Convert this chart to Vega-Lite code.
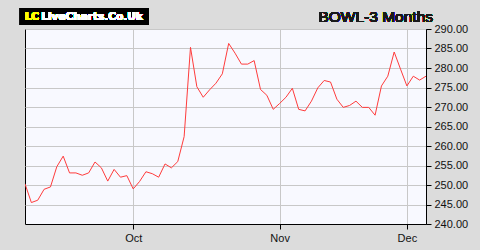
{
  "$schema": "https://vega.github.io/schema/vega-lite/v6.json",
  "width": 401,
  "height": 195,
  "autosize": {"type": "none"},
  "padding": {"left": 25, "top": 29, "right": 54, "bottom": 26},
  "background": "#dcdcdc",
  "view": {"stroke": "#000000", "strokeWidth": 1, "fill": "#f8f9ff"},
  "config": {"font": "Liberation Sans"},
  "resolve": {"axis": {"x": "independent", "y": "independent"}},
  "data": {
    "values": [
      {"i": 0, "close": 250.3}, {"i": 1, "close": 245.5}, {"i": 2, "close": 246.1}, {"i": 3, "close": 248.9},
      {"i": 4, "close": 249.5}, {"i": 5, "close": 254.7}, {"i": 6, "close": 257.4}, {"i": 7, "close": 253.1},
      {"i": 8, "close": 253.1}, {"i": 9, "close": 252.5}, {"i": 10, "close": 253.1}, {"i": 11, "close": 255.9},
      {"i": 12, "close": 254.4}, {"i": 13, "close": 251.0}, {"i": 14, "close": 254.0}, {"i": 15, "close": 252.0},
      {"i": 16, "close": 252.4}, {"i": 17, "close": 249.0}, {"i": 18, "close": 250.9}, {"i": 19, "close": 253.4},
      {"i": 20, "close": 252.9}, {"i": 21, "close": 252.0}, {"i": 22, "close": 255.4}, {"i": 23, "close": 254.4},
      {"i": 24, "close": 256.0}, {"i": 25, "close": 262.4}, {"i": 26, "close": 285.3}, {"i": 27, "close": 275.2},
      {"i": 28, "close": 272.5}, {"i": 29, "close": 274.4}, {"i": 30, "close": 276.1}, {"i": 31, "close": 278.5},
      {"i": 32, "close": 286.3}, {"i": 33, "close": 283.8}, {"i": 34, "close": 281.0}, {"i": 35, "close": 281.0},
      {"i": 36, "close": 281.9}, {"i": 37, "close": 274.5}, {"i": 38, "close": 273.0}, {"i": 39, "close": 269.4},
      {"i": 40, "close": 270.9}, {"i": 41, "close": 272.5}, {"i": 42, "close": 274.8}, {"i": 43, "close": 269.4},
      {"i": 44, "close": 269.0}, {"i": 45, "close": 271.5}, {"i": 46, "close": 274.9}, {"i": 47, "close": 276.8},
      {"i": 48, "close": 276.4}, {"i": 49, "close": 272.0}, {"i": 50, "close": 269.9}, {"i": 51, "close": 270.4},
      {"i": 52, "close": 271.5}, {"i": 53, "close": 269.9}, {"i": 54, "close": 269.9}, {"i": 55, "close": 267.9},
      {"i": 56, "close": 275.4}, {"i": 57, "close": 277.9}, {"i": 58, "close": 284.1}, {"i": 59, "close": 279.7},
      {"i": 60, "close": 275.4}, {"i": 61, "close": 277.9}, {"i": 62, "close": 276.9}, {"i": 63, "close": 277.9}
    ]
  },
  "layer": [
    {
      "mark": {"type": "line", "color": "#ff3c3c", "strokeWidth": 1, "clip": true},
      "encoding": {
        "x": {
          "field": "i",
          "type": "quantitative",
          "scale": {"domain": [0, 63], "nice": false, "zero": false},
          "axis": {
            "title": null,
            "values": [17, 40, 60],
            "labelExpr": "datum.value == 17 ? 'Oct' : datum.value == 40 ? 'Nov' : 'Dec'",
            "labelOverlap": false,
            "grid": true,
            "gridColor": "#c8c8c8",
            "gridWidth": 1,
            "domainColor": "#000000",
            "tickColor": "#000000",
            "tickSize": 5,
            "labelFontSize": 11,
            "labelColor": "#111111",
            "labelPadding": 3,
            "labelFont": "Liberation Sans"
          }
        },
        "y": {
          "field": "close",
          "type": "quantitative",
          "scale": {"domain": [240, 290], "nice": false, "zero": false},
          "axis": {
            "title": null,
            "orient": "right",
            "values": [240, 245, 250, 255, 260, 265, 270, 275, 280, 285, 290],
            "format": ".2f",
            "labelOverlap": false,
            "labelFlush": false,
            "grid": true,
            "gridColor": "#c8c8c8",
            "gridWidth": 1,
            "domainColor": "#000000",
            "tickColor": "#000000",
            "tickSize": 5,
            "labelFontSize": 11,
            "labelColor": "#111111",
            "labelPadding": 3,
            "labelFont": "Liberation Sans"
          }
        }
      }
    },
    {
      "mark": {"type": "rect", "color": "#000000", "clip": false},
      "encoding": {
        "x": {"datum": -0.79, "type": "quantitative", "axis": null},
        "x2": {"datum": 19.43},
        "y": {"datum": 295.38, "type": "quantitative", "axis": null},
        "y2": {"datum": 291.03}
      }
    },
    {
      "mark": {"type": "text", "text": "LC", "color": "#ffff00", "font": "DejaVu Sans", "fontWeight": "bold", "fontSize": 10.5, "align": "left", "baseline": "alphabetic", "clip": false},
      "encoding": {
        "x": {"datum": -0.05, "type": "quantitative", "axis": null},
        "y": {"datum": 292.2, "type": "quantitative", "axis": null}
      }
    },
    {
      "mark": {"type": "text", "text": "LiveCharts.Co.Uk", "color": "#ffffff", "font": "DejaVu Sans", "fontWeight": "bold", "fontSize": 10.5, "align": "left", "baseline": "alphabetic", "clip": false},
      "encoding": {
        "x": {"datum": 2.56, "type": "quantitative", "axis": null},
        "y": {"datum": 292.2, "type": "quantitative", "axis": null}
      }
    },
    {
      "mark": {"type": "text", "text": "BOWL-3 Months", "color": "#1a1a1a", "font": "Liberation Sans", "fontWeight": "normal", "fontSize": 15.5, "align": "right", "baseline": "alphabetic", "clip": false},
      "encoding": {
        "x": {"datum": 64.1, "type": "quantitative", "axis": null},
        "y": {"datum": 291.79, "type": "quantitative", "axis": null}
      }
    }
  ]
}
